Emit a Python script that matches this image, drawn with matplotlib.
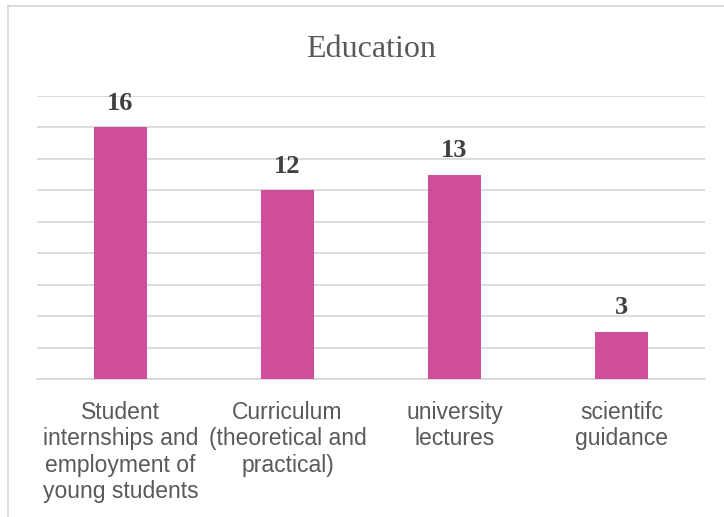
import numpy as np
import matplotlib
matplotlib.use("Agg")
import matplotlib.pyplot as plt
from matplotlib.lines import Line2D

categories = ["Student\ninternships and\nemployment of\nyoung students",
              "Curriculum\n(theoretical and\npractical)",
              "university\nlectures",
              "scientifc\nguidance"]
values = [16, 12, 13, 3]

W, H = 724, 517
fig = plt.figure(figsize=(W / 100, H / 100), dpi=100)

# plot area in pixel coords -> figure fractions
left, right, top, bottom = 37, 705, 96, 379
ax = fig.add_axes([left / W, 1 - bottom / H, (right - left) / W, (bottom - top) / H])

x = np.arange(len(categories))
bars = ax.bar(x, values, width=0.317, color="#CF4E99", zorder=3)

ax.set_xlim(-0.5, len(categories) - 0.5)
ax.set_ylim(0, 18)
ax.set_yticks(np.arange(0, 19, 2))
ax.yaxis.grid(True, color="#D9D9D9", linewidth=1.3, zorder=0)
ax.tick_params(axis="y", left=False, labelleft=False)
for s in ["left", "right", "top"]:
    ax.spines[s].set_visible(False)
ax.spines["bottom"].set_color("#D9D9D9")
ax.spines["bottom"].set_linewidth(1.3)

ax.set_xticks(x)
ax.set_xticklabels(categories, fontfamily="Liberation Sans", fontsize=16.5,
                   color="#595959", linespacing=1.2)
ax.tick_params(axis="x", length=0, pad=15.5)

# value labels above the bars
for b, v in zip(bars, values):
    ax.annotate(str(v), (b.get_x() + b.get_width() / 2, v),
                xytext=(0, 12.5), textcoords="offset points",
                ha="center", va="baseline", fontfamily="Liberation Serif",
                fontweight="bold", fontsize=19, color="#404040")

fig.text(371 / W, 1 - 57 / H, "Education", ha="center", va="baseline",
         fontfamily="Liberation Serif", fontsize=23, color="#595959")

# chart frame (left and top edges visible)
fig.add_artist(Line2D([8 / W, 8 / W], [0, 1 - 6 / H], color="#D9D9D9", linewidth=1.3))
fig.add_artist(Line2D([8 / W, 1], [1 - 6 / H, 1 - 6 / H], color="#D9D9D9", linewidth=1.3))

fig.savefig("out.png", dpi=100)
